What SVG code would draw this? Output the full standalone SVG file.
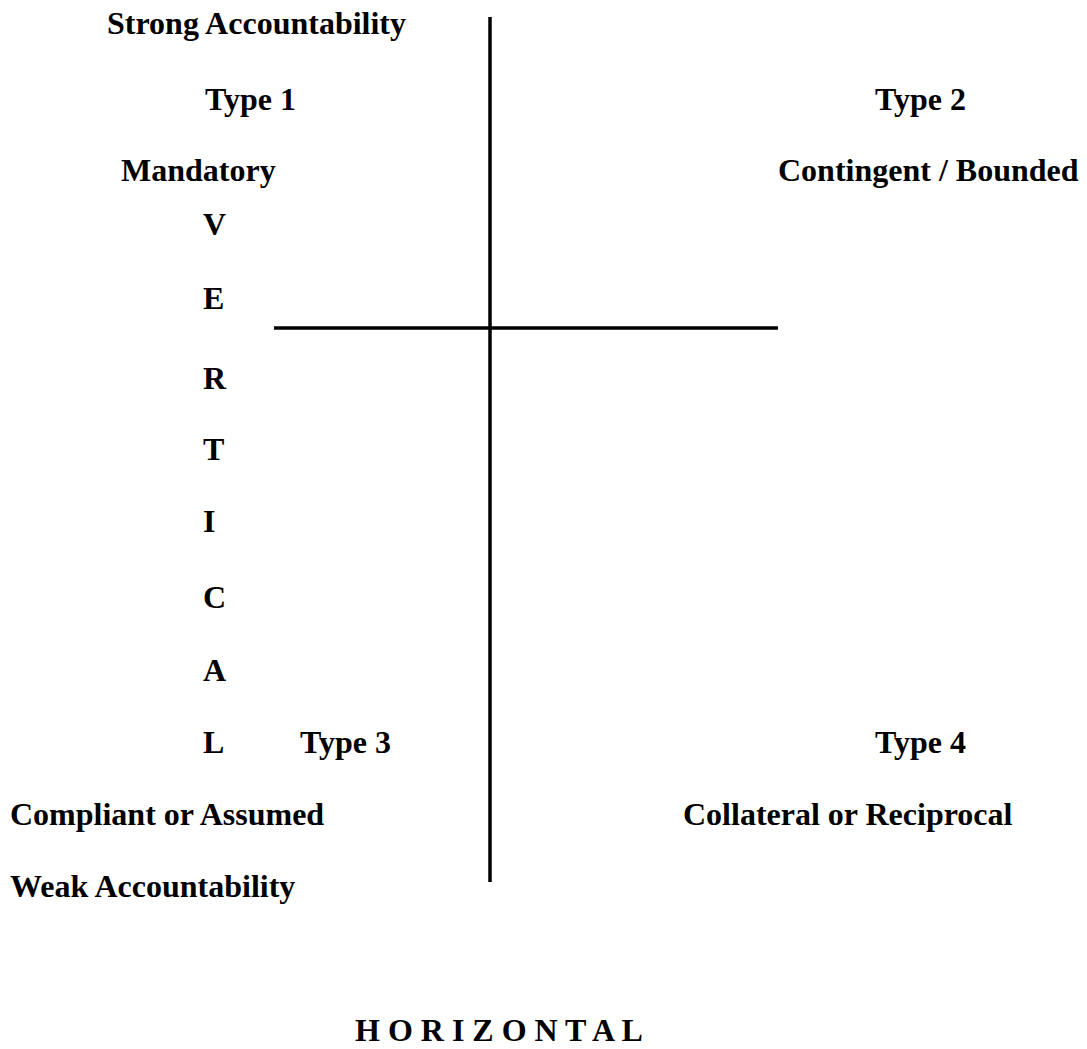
<svg xmlns="http://www.w3.org/2000/svg" width="1087" height="1049" viewBox="0 0 1087 1049">
<style>
text{font-family:"Liberation Serif","Times New Roman",serif;font-weight:bold;font-size:32px;fill:#000}
.ln{stroke:#000;stroke-width:3.5;fill:none}
</style>
<rect width="1087" height="1049" fill="#fff"/>
<g id="connectors">
<line class="ln" x1="490" y1="17" x2="490" y2="882"/>
<line class="ln" x1="274" y1="328" x2="778" y2="328"/>
</g>
<g id="strong"><text x="107" y="34">Strong Accountability</text></g>
<g id="type1"><text x="205" y="110">Type 1</text></g>
<g id="type2"><text x="875" y="110">Type 2</text></g>
<g id="mandatory"><text x="121" y="181">Mandatory</text></g>
<g id="contingent"><text x="778" y="181">Contingent / Bounded</text></g>
<g id="vertical">
<text x="203" y="235">V</text>
<text x="203" y="309">E</text>
<text x="203" y="389">R</text>
<text x="203" y="460">T</text>
<text x="203" y="532">I</text>
<text x="203" y="608">C</text>
<text x="203" y="681">A</text>
<text x="203" y="753">L</text>
</g>
<g id="type3"><text x="300" y="753">Type 3</text></g>
<g id="type4"><text x="875" y="753">Type 4</text></g>
<g id="compliant"><text x="10" y="825">Compliant or Assumed</text></g>
<g id="collateral"><text x="683" y="825">Collateral or Reciprocal</text></g>
<g id="weak"><text x="10" y="897">Weak Accountability</text></g>
<g id="horizontal"><text x="355" y="1041">H O R I Z O N T A L</text></g>
</svg>
